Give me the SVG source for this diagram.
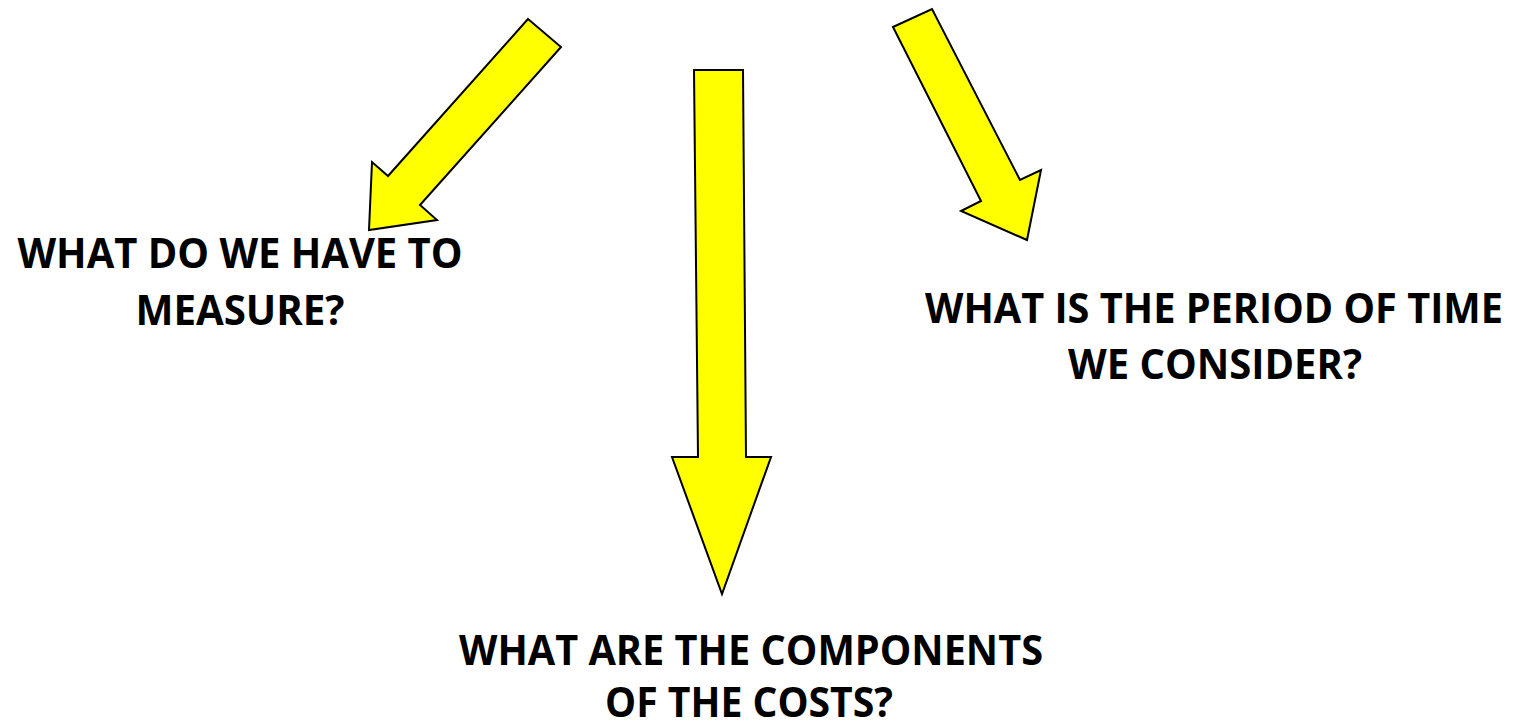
<svg xmlns="http://www.w3.org/2000/svg" width="1515" height="722" viewBox="0 0 1515 722">
<style>
.arrow{fill:#ffff00;stroke:#000;stroke-width:2;stroke-linejoin:miter}
.lbl{font-family:"Open Sans","Liberation Sans",sans-serif;font-weight:bold;font-size:42px;fill:#000;text-anchor:middle}
</style>
<rect width="1515" height="722" fill="#fff"/>
<g id="connectors">
<polygon class="arrow" points="528,19 561,47 420,205 437,220 369,230 372,162 388,176"/>
<polygon class="arrow" points="694,70 743,70 746,457 771,457 722,594 672,457 698,457"/>
<polygon class="arrow" points="893,27 932,9 1020,180 1041,170 1027,240 961,211 981,201"/>
</g>
<g id="node-measure">
<text class="lbl" x="240" y="268" textLength="445" lengthAdjust="spacingAndGlyphs">WHAT DO WE HAVE TO</text>
<text class="lbl" x="240" y="325" textLength="209" lengthAdjust="spacingAndGlyphs">MEASURE?</text>
</g>
<g id="node-period">
<text class="lbl" x="1214" y="323" textLength="578" lengthAdjust="spacingAndGlyphs">WHAT IS THE PERIOD OF TIME</text>
<text class="lbl" x="1215" y="379" textLength="294" lengthAdjust="spacingAndGlyphs">WE CONSIDER?</text>
</g>
<g id="node-components">
<text class="lbl" x="751" y="665" textLength="584" lengthAdjust="spacingAndGlyphs">WHAT ARE THE COMPONENTS</text>
<text class="lbl" x="749" y="717" textLength="288" lengthAdjust="spacingAndGlyphs">OF THE COSTS?</text>
</g>
</svg>
